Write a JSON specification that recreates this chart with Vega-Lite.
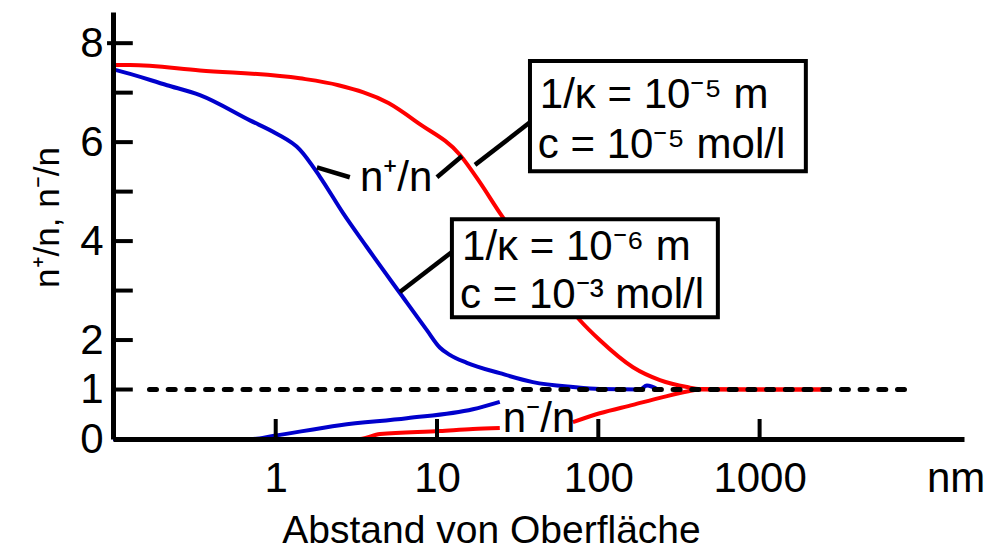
{
  "$schema": "https://vega.github.io/schema/vega-lite/v6.json",
  "width": 851,
  "height": 427,
  "autosize": "none",
  "padding": {"left": 113, "top": 12, "right": 39, "bottom": 110},
  "background": "white",
  "config": {"view": {"stroke": null}, "font": "Liberation Sans"},
  "datasets": {
    "curves": [
      {"series": "rp", "curve": "red", "d": 0.098, "v": 7.56},
      {"series": "rp", "curve": "red", "d": 0.125, "v": 7.56},
      {"series": "rp", "curve": "red", "d": 0.339, "v": 7.45},
      {"series": "rp", "curve": "red", "d": 1.41, "v": 7.29},
      {"series": "rp", "curve": "red", "d": 2.45, "v": 7.15},
      {"series": "rp", "curve": "red", "d": 5.0, "v": 6.79},
      {"series": "rp", "curve": "red", "d": 7.7, "v": 6.38},
      {"series": "rp", "curve": "red", "d": 13.9, "v": 5.74},
      {"series": "rp", "curve": "red", "d": 18.4, "v": 5.19},
      {"series": "rp", "curve": "red", "d": 24.5, "v": 4.57},
      {"series": "rp", "curve": "red", "d": 43.4, "v": 3.47},
      {"series": "rp", "curve": "red", "d": 76.9, "v": 2.4},
      {"series": "rp", "curve": "red", "d": 102, "v": 2.0},
      {"series": "rp", "curve": "red", "d": 164, "v": 1.45},
      {"series": "rp", "curve": "red", "d": 241, "v": 1.19},
      {"series": "rp", "curve": "red", "d": 355, "v": 1.05},
      {"series": "rp", "curve": "red", "d": 427, "v": 1.01},
      {"series": "rp", "curve": "red", "d": 871, "v": 1.0},
      {"series": "rp", "curve": "red", "d": 2612, "v": 1.0},
      {"series": "rma", "curve": "red", "d": 0.098, "v": 0},
      {"series": "rma", "curve": "red", "d": 3.33, "v": 0},
      {"series": "rma", "curve": "red", "d": 4.43, "v": 0.1},
      {"series": "rma", "curve": "red", "d": 10.4, "v": 0.16},
      {"series": "rma", "curve": "red", "d": 16.7, "v": 0.2},
      {"series": "rma", "curve": "red", "d": 24.5, "v": 0.22},
      {"series": "rmb", "curve": "red", "d": 69.6, "v": 0.34},
      {"series": "rmb", "curve": "red", "d": 102, "v": 0.52},
      {"series": "rmb", "curve": "red", "d": 164, "v": 0.69},
      {"series": "rmb", "curve": "red", "d": 241, "v": 0.83},
      {"series": "rmb", "curve": "red", "d": 355, "v": 0.96},
      {"series": "rmb", "curve": "red", "d": 427, "v": 1.0},
      {"series": "rmb", "curve": "red", "d": 871, "v": 1.0},
      {"series": "rmb", "curve": "red", "d": 2612, "v": 1.0},
      {"series": "bp", "curve": "blue", "d": 0.098, "v": 7.47},
      {"series": "bp", "curve": "blue", "d": 0.104, "v": 7.45},
      {"series": "bp", "curve": "blue", "d": 0.212, "v": 7.15},
      {"series": "bp", "curve": "blue", "d": 0.339, "v": 6.95},
      {"series": "bp", "curve": "blue", "d": 0.692, "v": 6.44},
      {"series": "bp", "curve": "blue", "d": 1.0, "v": 6.18},
      {"series": "bp", "curve": "blue", "d": 1.41, "v": 5.85},
      {"series": "bp", "curve": "blue", "d": 1.88, "v": 5.3},
      {"series": "bp", "curve": "blue", "d": 2.61, "v": 4.57},
      {"series": "bp", "curve": "blue", "d": 3.67, "v": 3.88},
      {"series": "bp", "curve": "blue", "d": 5.89, "v": 2.95},
      {"series": "bp", "curve": "blue", "d": 8.65, "v": 2.2},
      {"series": "bp", "curve": "blue", "d": 10.4, "v": 1.85},
      {"series": "bp", "curve": "blue", "d": 12.0, "v": 1.7},
      {"series": "bp", "curve": "blue", "d": 15.3, "v": 1.54},
      {"series": "bp", "curve": "blue", "d": 24.5, "v": 1.33},
      {"series": "bp", "curve": "blue", "d": 39.3, "v": 1.15},
      {"series": "bp", "curve": "blue", "d": 69.6, "v": 1.05},
      {"series": "bp", "curve": "blue", "d": 102, "v": 1.01},
      {"series": "bp", "curve": "blue", "d": 181, "v": 1.0},
      {"series": "bp", "curve": "blue", "d": 200, "v": 1.08},
      {"series": "bp", "curve": "blue", "d": 234, "v": 1.0},
      {"series": "bm", "curve": "blue", "d": 0.098, "v": 0},
      {"series": "bm", "curve": "blue", "d": 0.723, "v": 0},
      {"series": "bm", "curve": "blue", "d": 0.961, "v": 0.06},
      {"series": "bm", "curve": "blue", "d": 2.5, "v": 0.28},
      {"series": "bm", "curve": "blue", "d": 6.5, "v": 0.42},
      {"series": "bm", "curve": "blue", "d": 16.7, "v": 0.6},
      {"series": "bm", "curve": "blue", "d": 24.5, "v": 0.75}
    ],
    "refline": [{"d": 0.165, "d2": 9300, "v": 1}],
    "ticks": [
      {"d": 0.098, "d2": 0.13, "v": 1, "v2": 1},
      {"d": 0.098, "d2": 0.13, "v": 2, "v2": 2},
      {"d": 0.098, "d2": 0.13, "v": 3, "v2": 3},
      {"d": 0.098, "d2": 0.13, "v": 4, "v2": 4},
      {"d": 0.098, "d2": 0.13, "v": 5, "v2": 5},
      {"d": 0.098, "d2": 0.13, "v": 6, "v2": 6},
      {"d": 0.098, "d2": 0.13, "v": 7, "v2": 7},
      {"d": 0.09, "d2": 0.13, "v": 8, "v2": 8},
      {"d": 1, "d2": 1, "v": 0, "v2": 0.404},
      {"d": 10, "d2": 10, "v": 0, "v2": 0.404},
      {"d": 100, "d2": 100, "v": 0, "v2": 0.404},
      {"d": 1000, "d2": 1000, "v": 0, "v2": 0.404}
    ],
    "leaders": [
      {"d": 1.8, "v": 5.49, "d2": 2.88, "v2": 5.29},
      {"d": 9.99, "v": 5.29, "d2": 14.3, "v2": 5.72},
      {"d": 17.2, "v": 5.54, "d2": 37.7, "v2": 6.4},
      {"d": 5.89, "v": 2.97, "d2": 12.37, "v2": 3.78}
    ],
    "boxes": [
      {"d": 37.7, "d2": 1935, "v": 7.64, "v2": 5.41},
      {"d": 12.37, "d2": 551, "v": 4.44, "v2": 2.46}
    ],
    "labels": [
      {"d": 43.4, "v": 6.69, "t": "1/κ = 10⁻⁵ m"},
      {"d": 42.2, "v": 5.68, "t": "c = 10⁻⁵ mol/l"},
      {"d": 14.3, "v": 3.62, "t": "1/κ = 10⁻⁶ m"},
      {"d": 13.9, "v": 2.65, "t": "c = 10⁻³ mol/l"},
      {"d": 3.33, "v": 5.01, "t": "n⁺/n"},
      {"d": 25.6, "v": 0.14, "t": "n⁻/n"},
      {"d": 10900, "v": -1.07, "t": "nm"}
    ]
  },
  "encoding": {
    "x": {
      "field": "d",
      "type": "quantitative",
      "scale": {"type": "log", "domain": [0.098, 18500], "nice": false},
      "axis": {
        "values": [1, 10, 100, 1000],
        "format": "d",
        "grid": false,
        "zindex": 1,
        "domainColor": "black",
        "domainWidth": 5,
        "ticks": false,
        "tickSize": 0,
        "labelFontSize": 42,
        "labelColor": "black",
        "labelPadding": 19,
        "labelBaseline": "top",
        "title": "Abstand von Oberfläche",
        "titleFontSize": 39,
        "titleFontWeight": "normal",
        "titleColor": "black",
        "titleX": 378,
        "titleY": 103,
        "titleAlign": "center",
        "titleBaseline": "alphabetic"
      }
    },
    "y": {
      "field": "v",
      "type": "quantitative",
      "scale": {"domain": [0, 8.63], "nice": false, "zero": false},
      "axis": {
        "values": [0, 1, 2, 4, 6, 8],
        "grid": false,
        "zindex": 1,
        "domainColor": "black",
        "domainWidth": 5,
        "ticks": false,
        "tickSize": 0,
        "labelFontSize": 42,
        "labelColor": "black",
        "labelPadding": 10,
        "title": "n⁺/n, n⁻/n",
        "titleFontSize": 35,
        "titleFontWeight": "normal",
        "titleColor": "black",
        "titleX": -66,
        "titleY": 205,
        "titleAngle": 270,
        "titleAlign": "center",
        "titleBaseline": "middle"
      }
    }
  },
  "layer": [
    {
      "data": {"name": "curves"},
      "mark": {"type": "line", "strokeWidth": 4, "interpolate": "monotone", "clip": false},
      "encoding": {
        "color": {"field": "curve", "type": "nominal", "scale": {"domain": ["red", "blue"], "range": ["#ff0000", "#0000cc"]}, "legend": null},
        "detail": {"field": "series"}
      }
    },
    {
      "data": {"name": "refline"},
      "mark": {"type": "rule", "color": "black", "strokeWidth": 5, "strokeCap": "round", "strokeDash": [7, 11.7]},
      "encoding": {"x2": {"field": "d2"}}
    },
    {
      "data": {"name": "ticks"},
      "mark": {"type": "rule", "color": "black", "strokeWidth": 4},
      "encoding": {"x2": {"field": "d2"}, "y2": {"field": "v2"}}
    },
    {
      "data": {"name": "leaders"},
      "mark": {"type": "rule", "color": "black", "strokeWidth": 4.5},
      "encoding": {"x2": {"field": "d2"}, "y2": {"field": "v2"}}
    },
    {
      "data": {"name": "boxes"},
      "mark": {"type": "rect", "fill": "white", "stroke": "black", "strokeWidth": 4},
      "encoding": {"x2": {"field": "d2"}, "y2": {"field": "v2"}}
    },
    {
      "data": {"name": "labels"},
      "mark": {"type": "text", "align": "left", "baseline": "alphabetic", "fontSize": 42, "color": "black"},
      "encoding": {"text": {"field": "t"}}
    }
  ]
}
